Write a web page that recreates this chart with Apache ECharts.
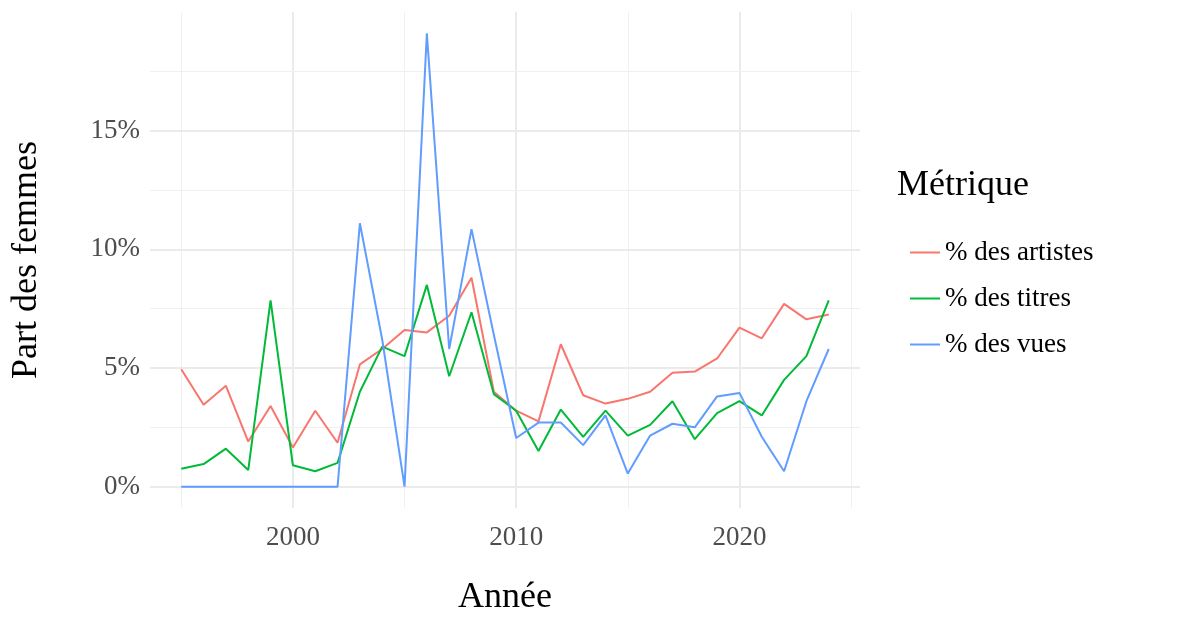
<!DOCTYPE html>
<html><head><meta charset="utf-8">
<script src="https://cdn.jsdelivr.net/npm/echarts@6/dist/echarts.min.js"></script>
<style>html,body{margin:0;background:#fff}#c{width:1200px;height:628px}</style>
</head><body><div id="c"></div>
<script>
const years=[1995,1996,1997,1998,1999,2000,2001,2002,2003,2004,2005,2006,2007,2008,2009,2010,2011,2012,2013,2014,2015,2016,2017,2018,2019,2020,2021,2022,2023,2024];
const artistes=[4.95,3.45,4.25,1.9,3.4,1.65,3.2,1.85,5.15,5.8,6.6,6.5,7.2,8.8,4.0,3.2,2.75,6.0,3.85,3.5,3.7,4.0,4.8,4.85,5.4,6.7,6.25,7.7,7.05,7.25];
const titres=[0.75,0.95,1.6,0.7,7.85,0.9,0.65,1.0,4.0,5.9,5.5,8.5,4.65,7.35,3.9,3.2,1.5,3.25,2.1,3.2,2.15,2.6,3.6,2.0,3.1,3.6,3.0,4.5,5.5,7.85];
const vues=[0,0,0,0,0,0,0,0,11.1,6.2,0,19.1,5.8,10.85,6.4,2.05,2.7,2.7,1.75,3.0,0.55,2.15,2.65,2.5,3.8,3.95,2.1,0.65,3.6,5.8];
const xMajor=[2000,2010,2020], xMinor=[1995,2005,2015,2025];
const yMajor=[0,5,10,15], yMinor=[2.5,7.5,12.5,17.5];
const serif='"Liberation Serif","DejaVu Serif",serif';
const grid=[
 ...xMajor.map(v=>({xAxis:v,lineStyle:{color:'#ebebeb',width:2,type:'solid'}})),
 ...xMinor.map(v=>({xAxis:v,lineStyle:{color:'#f0f0f0',width:1,type:'solid'}})),
 ...yMajor.map(v=>({yAxis:v,lineStyle:{color:'#ebebeb',width:2,type:'solid'}})),
 ...yMinor.map(v=>({yAxis:v,lineStyle:{color:'#f0f0f0',width:1,type:'solid'}}))
];
const mk=(name,data,color,extra)=>Object.assign({name,type:'line',data:years.map((y,i)=>[y,data[i]]),symbol:'none',
 lineStyle:{color,width:2},itemStyle:{color},z:3},extra||{});
const chart=echarts.init(document.getElementById('c'));
chart.setOption({
 animation:false,
 grid:{left:150,right:340,top:12,bottom:120},
 xAxis:{type:'value',min:1993.6,max:2025.4,name:'Année',nameLocation:'middle',nameGap:72,
  nameTextStyle:{fontFamily:serif,fontSize:36,color:'#000'},
  axisLine:{show:false},axisTick:{show:false},splitLine:{show:false},
  axisLabel:{customValues:xMajor,formatter:v=>String(v),fontFamily:serif,fontSize:27,color:'#4d4d4d',margin:16}},
 yAxis:{type:'value',min:-0.9,max:20,name:'Part des femmes',nameLocation:'middle',nameGap:105,
  nameTextStyle:{fontFamily:serif,fontSize:36,color:'#000'},
  axisLine:{show:false},axisTick:{show:false},splitLine:{show:false},
  axisLabel:{customValues:yMajor,formatter:v=>v+'%',fontFamily:serif,fontSize:27,color:'#4d4d4d',margin:10}},
 legend:{orient:'vertical',left:905,top:234,itemWidth:30,itemHeight:2,itemGap:19,icon:'rect',
  textStyle:{fontFamily:serif,fontSize:27,color:'#000'},data:['% des artistes','% des titres','% des vues']},
 graphic:[{type:'text',left:897,top:168,style:{text:'Métrique',font:'36px '+serif,fill:'#000'}}],
 series:[
  mk('% des artistes',artistes,'#F8766D',{markLine:{silent:true,symbol:'none',label:{show:false},z:1,data:grid}}),
  mk('% des titres',titres,'#00BA38'),
  mk('% des vues',vues,'#619CFF')
 ]
});
</script></body></html>
